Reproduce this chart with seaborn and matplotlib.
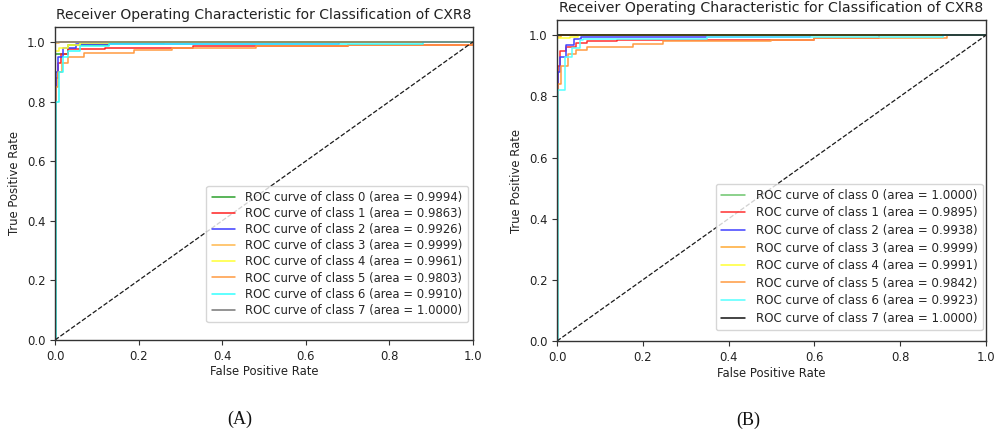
import numpy as np
import pandas as pd
import matplotlib
matplotlib.use("Agg")
import matplotlib.pyplot as plt
import seaborn as sns

# ---------------- data ----------------
classes = [0, 1, 2, 3, 4, 5, 6, 7]
auc_A = [0.9994, 0.9863, 0.9926, 0.9999, 0.9961, 0.9803, 0.9910, 1.0000]
auc_B = [1.0000, 0.9895, 0.9938, 0.9999, 0.9991, 0.9842, 0.9923, 1.0000]

# ROC vertices (fpr, tpr) per class, panel A  (curve reaches tpr at that fpr)
fpr_A = [
    [0, 0.001, 0.03, 0.13, 0.26, 1.0],
    [0, 0.002, 0.006, 0.015, 0.03, 0.12, 0.33, 0.70, 1.0],
    [0, 0.002, 0.007, 0.02, 0.05, 0.68, 1.0],
    [0, 0.001, 0.01, 1.0],
    [0, 0.001, 0.01, 0.03, 0.06, 0.13, 1.0],
    [0, 0.002, 0.007, 0.016, 0.03, 0.07, 0.19, 0.28, 0.48, 0.70, 1.0],
    [0, 0.002, 0.01, 0.02, 0.03, 0.06, 0.13, 0.88, 1.0],
    [0, 0.0005, 1.0],
]
tpr_A = [
    [0, 0.96, 0.99, 0.995, 1.0, 1.0],
    [0, 0.88, 0.93, 0.96, 0.975, 0.98, 0.985, 0.99, 1.0],
    [0, 0.90, 0.95, 0.98, 0.993, 1.0, 1.0],
    [0, 0.995, 1.0, 1.0],
    [0, 0.97, 0.98, 0.99, 0.995, 1.0, 1.0],
    [0, 0.85, 0.90, 0.93, 0.95, 0.963, 0.973, 0.98, 0.985, 0.99, 1.0],
    [0, 0.80, 0.90, 0.95, 0.97, 0.985, 0.993, 1.0, 1.0],
    [0, 1.0, 1.0],
]

# ROC vertices (fpr, tpr) per class, panel B
fpr_B = [
    [0, 0.0005, 1.0],
    [0, 0.002, 0.007, 0.02, 0.045, 0.07, 0.14, 0.60, 0.75, 1.0],
    [0, 0.002, 0.006, 0.022, 0.04, 0.057, 0.59, 1.0],
    [0, 0.001, 0.01, 1.0],
    [0, 0.001, 0.03, 0.05, 1.0],
    [0, 0.002, 0.009, 0.026, 0.045, 0.069, 0.178, 0.248, 0.50, 0.60, 0.91, 1.0],
    [0, 0.002, 0.019, 0.034, 0.053, 0.06, 0.35, 0.90, 1.0],
    [0, 0.0005, 1.0],
]
tpr_B = [
    [0, 1.0, 1.0],
    [0, 0.90, 0.95, 0.962, 0.975, 0.981, 0.985, 0.99, 1.0, 1.0],
    [0, 0.88, 0.93, 0.97, 0.989, 0.996, 1.0, 1.0],
    [0, 0.995, 1.0, 1.0],
    [0, 0.99, 0.995, 1.0, 1.0],
    [0, 0.84, 0.90, 0.94, 0.953, 0.962, 0.973, 0.981, 0.986, 0.992, 1.0, 1.0],
    [0, 0.82, 0.93, 0.96, 0.985, 0.989, 0.995, 1.0, 1.0],
    [0, 1.0, 1.0],
]

colors_A = ["#2ca02c", "#ff2020", "#3c3cff", "#ffb84d", "#ffff33", "#ff9a40", "#33ffff", "#777777"]
colors_B = ["#6cc56c", "#ff3030", "#4040ff", "#ffaa33", "#ffff33", "#ff9a40", "#55ffff", "#111111"]

title = "Receiver Operating Characteristic for Classification of CXR8"
panel_labels = ["(A)", "(B)"]

# ---------------- plotting ----------------
sns.set_theme(style="ticks")
plt.rcParams["font.family"] = ["DejaVu Sans"]
plt.rcParams["axes.edgecolor"] = "#333333"
plt.rcParams["axes.linewidth"] = 1.0

fig = plt.figure(figsize=(9.95, 4.32), dpi=100)
axA = fig.add_axes([0.0553, 0.213, 0.420, 0.7245])
axB = fig.add_axes([0.5598, 0.2106, 0.431, 0.743])

panels = [
    (axA, fpr_A, tpr_A, auc_A, colors_A, (0.988, 0.0575), 0.27, 8.35, 10.0),
    (axB, fpr_B, tpr_B, auc_B, colors_B, (0.993, 0.034), 0.38, 8.6, 10.2),
]

for ax, fprs, tprs, aucs, cols, anchor, lsp, lfs, tfs in panels:
    for c in classes:
        df = pd.DataFrame({"fpr": fprs[c], "tpr": tprs[c]})
        sns.lineplot(data=df, x="fpr", y="tpr", ax=ax, color=cols[c], lw=1.1,
                     estimator=None, sort=False, drawstyle="steps-post",
                     label=f"ROC curve of class {c} (area = {aucs[c]:.4f})")
    ax.plot([0, 1], [0, 1], "k--", lw=0.9)
    ax.set_xlim(0, 1.0)
    ax.set_ylim(0, 1.05)
    ax.set_xticks([0, 0.2, 0.4, 0.6, 0.8, 1.0])
    ax.set_yticks([0, 0.2, 0.4, 0.6, 0.8, 1.0])
    ax.tick_params(labelsize=8.4, length=3.5, width=0.8, color="#333333", labelcolor="#222222")
    ax.set_xlabel("False Positive Rate", fontsize=8.4, color="#222222", labelpad=2)
    ax.set_ylabel("True Positive Rate", fontsize=8.4, color="#222222", labelpad=4)
    ax.set_title(title, fontsize=tfs, color="#222222", pad=6)
    leg = ax.legend(loc="lower right", bbox_to_anchor=anchor, fontsize=lfs,
                    frameon=True, labelspacing=lsp, handlelength=2.0,
                    handletextpad=0.9, borderpad=0.45, borderaxespad=0.0)
    leg.get_frame().set_edgecolor("#cccccc")
    for ln in leg.get_lines():
        ln.set_linewidth(1.1)

fig.text(240 / 995, 1 - 419 / 432, panel_labels[0], ha="center", va="center",
         fontsize=13, family="Liberation Serif", color="#111111")
fig.text(748 / 995, 1 - 420 / 432, panel_labels[1], ha="center", va="center",
         fontsize=13, family="Liberation Serif", color="#111111")

fig.savefig("out.png", dpi=100)
